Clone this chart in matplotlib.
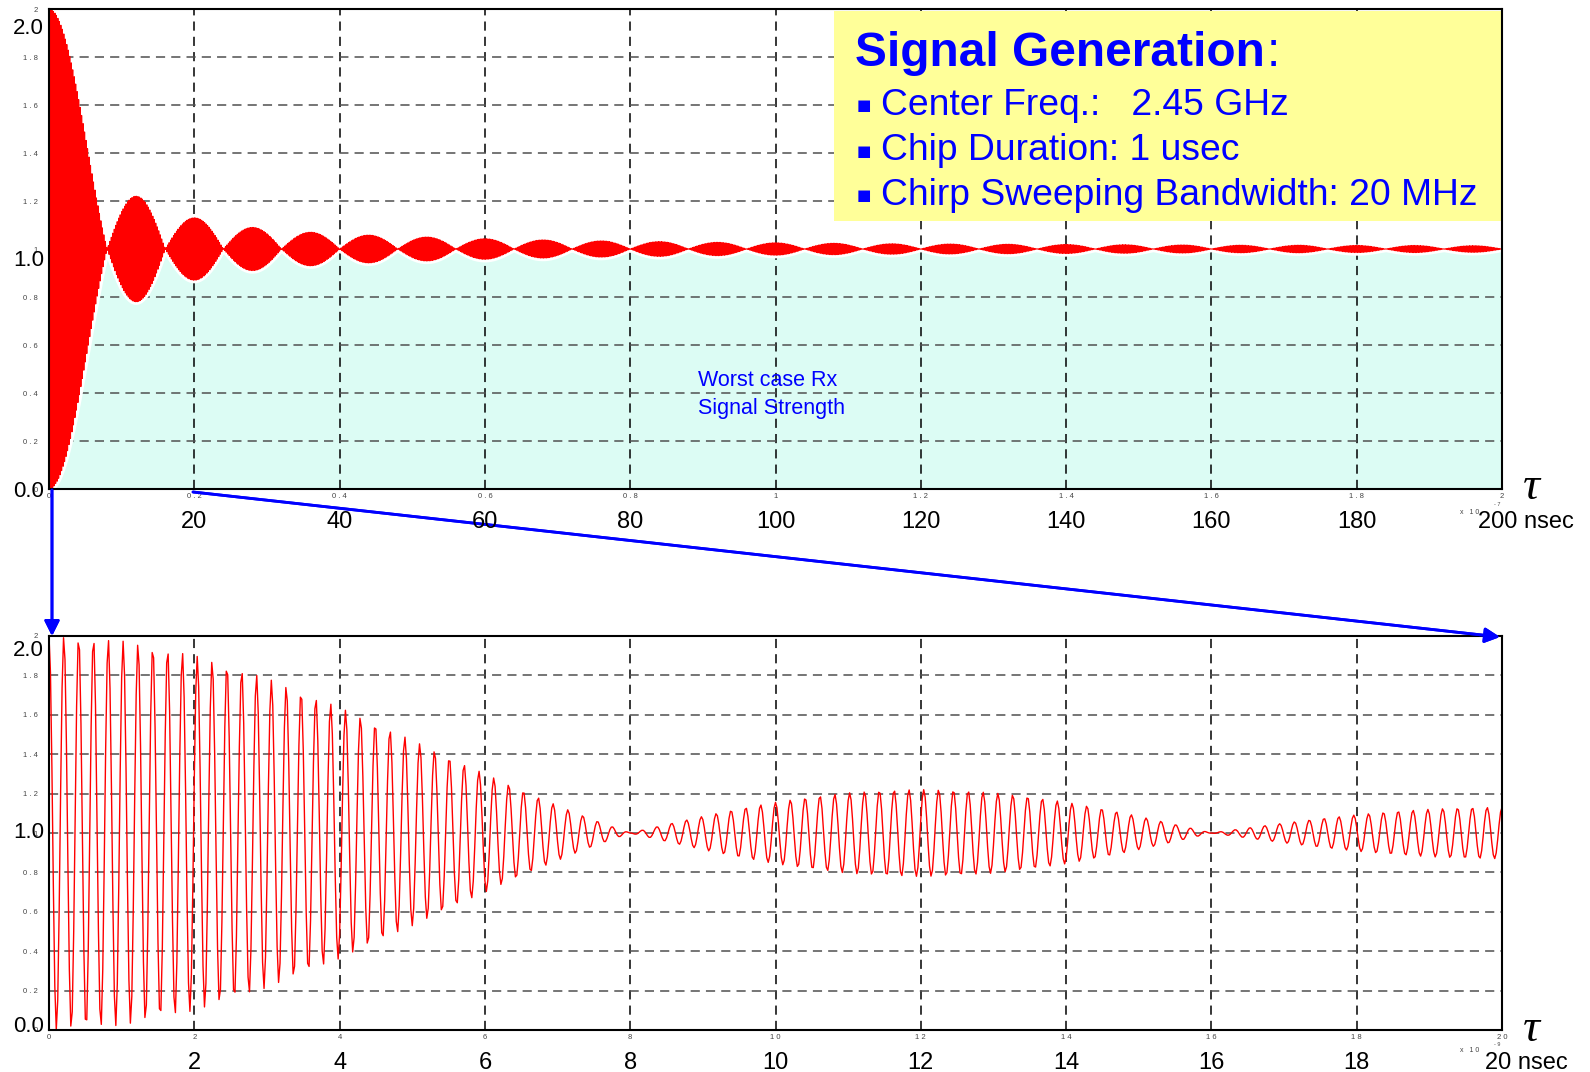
import numpy as np
import matplotlib.pyplot as plt
from matplotlib.patches import Rectangle

plt.rcParams['font.family'] = ['Liberation Sans', 'DejaVu Sans']

W, H = 1590, 1072
def fx(x):
    return x / W
def fy(y):
    return 1 - y / H

# values
carrier_ghz = 4.9          # ~10 cycles per 2 ns in the zoomed panel
null_ns = 8.0              # envelope nulls every 8 ns
lobe_peak = [1.0, 0.22, 0.13, 0.09, 0.07, 0.058, 0.05, 0.043, 0.038, 0.034,
             0.031, 0.028, 0.026, 0.024, 0.022, 0.021, 0.02, 0.019, 0.018,
             0.017, 0.016, 0.016, 0.015, 0.015, 0.014]

top_ticks = [0, 20, 40, 60, 80, 100, 120, 140, 160, 180, 200]
top_small = ['0', '0 . 2', '0 . 4', '0 . 6', '0 . 8', '1', '1 . 2', '1 . 4', '1 . 6', '1 . 8', '2']
top_big = ['20', '40', '60', '80', '100', '120', '140', '160', '180']
bot_ticks = [0, 2, 4, 6, 8, 10, 12, 14, 16, 18, 20]
bot_small = ['0', '2', '4', '6', '8', '1 0', '1 2', '1 4', '1 6', '1 8', '2 0']
bot_big = ['2', '4', '6', '8', '10', '12', '14', '16', '18']
y_ticks = [0, 0.2, 0.4, 0.6, 0.8, 1.0, 1.2, 1.4, 1.6, 1.8, 2.0]
y_small = ['0', '0 . 2', '0 . 4', '0 . 6', '0 . 8', '1', '1 . 2', '1 . 4', '1 . 6', '1 . 8', '2']

box_title = 'Signal Generation'
box_lines = ['Center Freq.:   2.45 GHz', 'Chip Duration: 1 usec',
             'Chirp Sweeping Bandwidth: 20 MHz']


def envelope(t):
    k = np.minimum((t // null_ns).astype(int), len(lobe_peak) - 1)
    u = t / null_ns - k
    shape = np.where(k == 0, np.sinc(u), np.abs(np.sin(np.pi * u)))
    return np.array(lobe_peak)[k] * shape


def setup(ax, xt, xl, xmax):
    ax.set_xlim(0, xmax)
    ax.set_ylim(0, 2)
    ax.set_xticks(xt)
    ax.set_xticklabels(xl, fontsize=5.5, color='#444')
    ax.set_yticks(y_ticks)
    ax.set_yticklabels(y_small, fontsize=5.5, color='#444')
    ax.tick_params(length=0)
    ax.tick_params(axis='x', pad=3)
    ax.tick_params(axis='y', pad=8)
    ax.set_axisbelow(True)
    ax.xaxis.grid(True, color='black', linestyle=(0, (6, 4)), lw=1.1)
    ax.yaxis.grid(True, color='#505050', linestyle=(0, (6, 4)), lw=1.1)
    for s in ax.spines.values():
        s.set_linewidth(1.5)
        s.set_color('black')


fig = plt.figure(figsize=(15.9, 10.72), dpi=100)

# top panel
ax1 = fig.add_axes([fx(49), fy(489), 1453 / W, 480 / H])
t1 = np.linspace(0, 200, 60001)
env1 = envelope(t1)
ax1.fill_between(t1, 0, 1 - env1, color='#dcfcf4', lw=0, zorder=0.3)
ax1.plot(t1, 1 - env1, color='white', lw=4.5, zorder=0.6)
ax1.plot(t1, 1 + env1 * np.cos(2 * np.pi * carrier_ghz * t1), color='red', lw=0.8, zorder=2)
setup(ax1, top_ticks, top_small, 200)
ax1.text(0.4467, 0.197, 'Worst case Rx\nSignal Strength', transform=ax1.transAxes,
         color='#0000ff', fontsize=15.5, va='center', ha='left', linespacing=1.45)
ax1.add_patch(Rectangle((0.540, 0.558), 0.459, 0.437, transform=ax1.transAxes,
                        facecolor='#ffff99', edgecolor='none', zorder=2.4))

# bottom panel
ax2 = fig.add_axes([fx(49), fy(1030), 1453 / W, 394 / H])
t2 = np.arange(0, 20.001, 0.02)
env2 = envelope(t2)
ax2.plot(t2, 1 + env2 * np.cos(2 * np.pi * carrier_ghz * t2), color='red', lw=1, zorder=2)
setup(ax2, bot_ticks, bot_small, 20)

# box text
ttl = fig.text(fx(855), fy(66), box_title, fontsize=34.5, fontweight='bold', color='#0000ff',
               va='baseline')
fig.canvas.draw()
bb = ttl.get_window_extent()
fig.text(bb.x1 / W + 0.001, fy(66), ':', fontsize=34.5, color='#0000ff', va='baseline')
for i, s in enumerate(box_lines):
    yb = 115 + 45 * i
    fig.text(fx(864), fy(yb - 9), '\u25a0', fontsize=11, color='#0000ff', va='center',
             ha='center', family='DejaVu Sans')
    fig.text(fx(881), fy(yb), s, fontsize=26.8, color='#0000ff', va='baseline')

# big axis labels
for lab, y in [('2.0', 29), ('1.0', 260), ('0.0', 492), ('2.0', 650), ('1.0', 832), ('0.0', 1026)]:
    fig.text(fx(44), fy(y), lab, fontsize=16, ha='right', va='center')
px_per = 1453 / 10
for i, lab in enumerate(top_big):
    fig.text(fx(49 + (i + 1) * px_per), fy(522), lab, fontsize=17, ha='center', va='center')
for i, lab in enumerate(bot_big):
    fig.text(fx(49 + (i + 1) * px_per), fy(1063), lab, fontsize=17, ha='center', va='center')
fig.text(fx(1526), fy(522), '200 nsec', fontsize=17, ha='center', va='center')
fig.text(fx(1526), fy(1063), '20 nsec', fontsize=17, ha='center', va='center')
for y in [488, 1030]:
    fig.text(fx(1531), fy(y), '\u03c4', fontsize=34, style='italic', ha='center', va='center',
             family=['Liberation Serif', 'DejaVu Serif'])
fig.text(fx(1460), fy(512), 'x   1 0', fontsize=5, color='#444', va='center')
fig.text(fx(1494), fy(505), '- 7', fontsize=4, color='#444', va='center')
fig.text(fx(1460), fy(1051), 'x   1 0', fontsize=5, color='#444', va='center')
fig.text(fx(1494), fy(1045), '- 9', fontsize=4, color='#444', va='center')

# zoom arrows
arrow = dict(arrowstyle='-|>,head_length=0.9,head_width=0.45', color='#0000ff', lw=2,
             shrinkA=0, shrinkB=0)
fig.add_artist(plt.annotate('', xy=(fx(52), fy(636)), xytext=(fx(52), fy(490)),
                            xycoords='figure fraction', arrowprops=arrow))
fig.add_artist(plt.annotate('', xy=(fx(1500), fy(637)), xytext=(fx(193), fy(492)),
                            xycoords='figure fraction', arrowprops=arrow))

fig.savefig('out.png', dpi=100)
